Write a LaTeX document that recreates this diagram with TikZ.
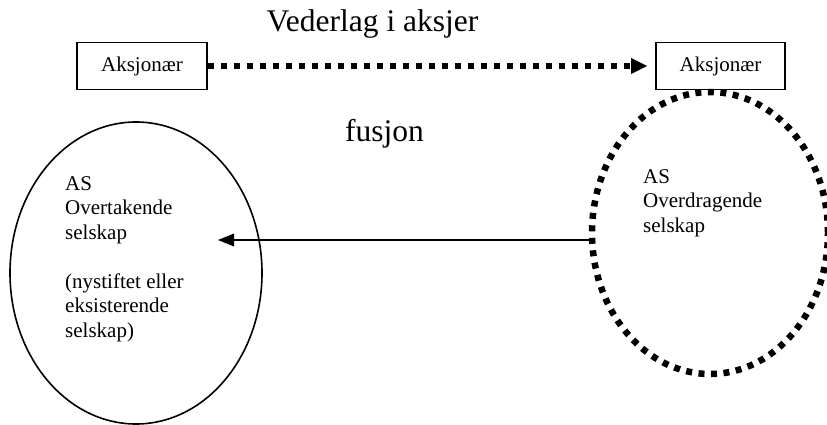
\documentclass[tikz,border=0pt]{standalone}
\usepackage{fontspec}
\setmainfont{Liberation Serif}
\usetikzlibrary{shapes.geometric,arrows.meta}
\begin{document}
\begin{tikzpicture}[x=1pt,y=-1pt,
  box/.style={draw,line width=1.8pt,minimum height=47pt,inner sep=0pt,font=\fontsize{21}{24.5}\selectfont},
  small/.style={inner sep=0pt,anchor=base west,font=\fontsize{21}{24.5}\selectfont},
  big/.style={inner sep=0pt,anchor=base,font=\fontsize{31.5}{36}\selectfont},
  dotline/.style={line width=6.5pt,dash pattern=on 6.5pt off 6.5pt},
  solidtip/.style={-{Triangle[length=16pt,width=#1,line width=0pt 0]}}]
\useasboundingbox (0,0) rectangle (827,425);
\clip (0,0) rectangle (827,425);
% title texts
\node[big] (title) at (372.5,32) {Vederlag i aksjer};
\node[big] (fus) at (384.5,142) {fusjon};
% boxes
\node[box,minimum width=130pt] (A1) at (142,66) {Aksjonær};
\node[box,minimum width=129pt] (A2) at (720.5,66) {Aksjonær};
% ellipses
\node[ellipse,draw,line width=1.6pt,minimum width=252pt,minimum height=302pt,inner sep=0pt] (OL) at (136,273) {};
\node[ellipse,draw,line width=6.5pt,dash pattern=on 6pt off 6.5pt,minimum width=236pt,minimum height=282pt,inner sep=0pt] (OR) at (710,233) {};
% texts in ellipses
\node[small] (tl) at (65,190) {\begin{tabular}[t]{@{}l@{}}AS\\Overtakende\\selskap\\ \\(nystiftet eller\\eksisterende\\selskap)\end{tabular}};
\node[small] (tr) at (643,183) {\begin{tabular}[t]{@{}l@{}}AS\\Overdragende\\selskap\end{tabular}};
% connectors
\draw[dotline,solidtip=16pt,shorten >=8pt] (A1.east) -- (A2.west);
\coordinate (tip) at (218,240);
\draw[line width=2pt,solidtip=13pt] (OR.west |- tip) -- (tip);
\end{tikzpicture}
\end{document}
